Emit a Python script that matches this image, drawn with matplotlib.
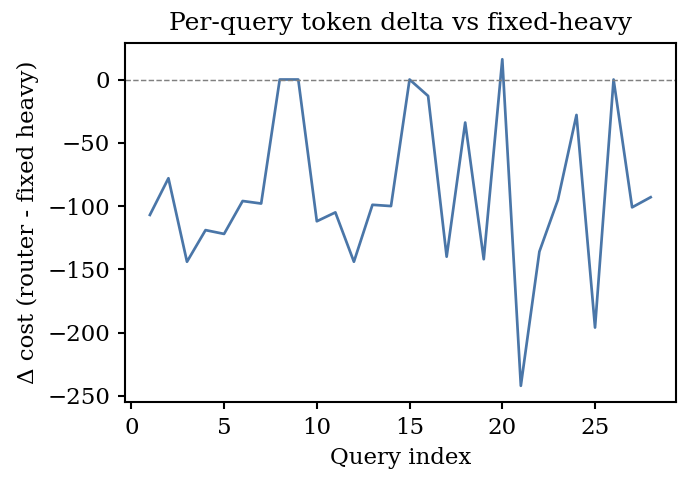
import numpy as np
import matplotlib
matplotlib.use("Agg")
import matplotlib.pyplot as plt

plt.rcParams['font.family'] = 'DejaVu Serif'
plt.rcParams['font.size'] = 11
plt.rcParams['axes.linewidth'] = 1.0
plt.rcParams['xtick.major.width'] = 1.0
plt.rcParams['ytick.major.width'] = 1.0

query_index = np.arange(1, 29)
delta = [-107, -78, -144, -119, -122, -96, -98, 0, 0, -112, -105, -144, -99, -100,
         0, -13, -140, -34, -142, 16, -242, -136, -95, -28, -196, 0, -101, -93]

fig, ax = plt.subplots(figsize=(686 / 150, 477 / 150), dpi=150)
ax.plot(query_index, delta, color='#4a76a8', lw=1.3)
ax.axhline(0, color='grey', ls='--', lw=0.7)
ax.set_title("Per-query token delta vs fixed-heavy", fontsize=12)
ax.set_xlabel("Query index", fontsize=11)
ax.set_ylabel("Δ cost (router - fixed heavy)", fontsize=11)
ax.set_xticks([0, 5, 10, 15, 20, 25])
fig.subplots_adjust(left=0.182, right=0.985, top=0.910, bottom=0.157)
fig.savefig("out.png")
